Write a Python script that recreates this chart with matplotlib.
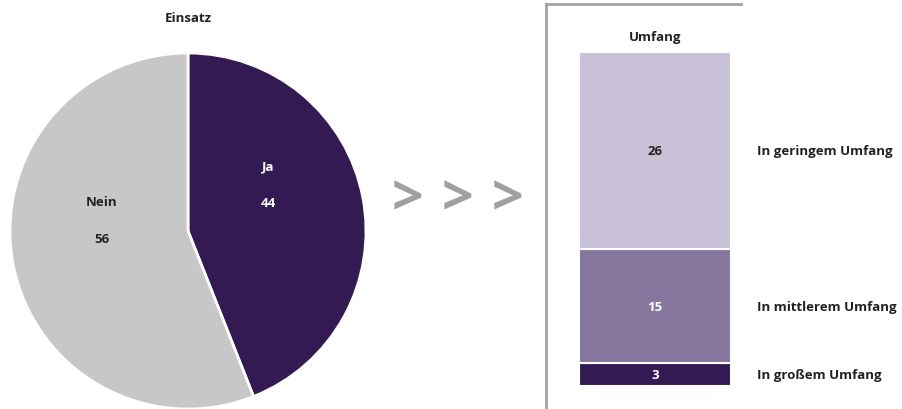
import numpy as np
import matplotlib.pyplot as plt
from matplotlib.lines import Line2D

plt.rcParams['font.family'] = ['Open Sans', 'DejaVu Sans']

# pie data
pie_labels = ['Ja', 'Nein']
pie_values = [44, 56]
pie_colors = ['#341a52', '#c6c7c6']

# stacked bar data (bottom to top)
bar_labels = ['In großem Umfang', 'In mittlerem Umfang', 'In geringem Umfang']
bar_values = [3, 15, 26]
bar_colors = ['#341a52', '#86769e', '#c8c1d8']
bar_text_colors = ['white', 'white', '#222222']

W, H = 903, 410
fig = plt.figure(figsize=(W / 100, H / 100), dpi=100)
fs = 9.5

# pie
r = 178
cx, cy = 188, 232
ax1 = fig.add_axes([(cx - r) / W, (H - cy - r) / H, 2 * r / W, 2 * r / H])
ax1.pie(pie_values, colors=pie_colors, startangle=90, counterclock=False,
        wedgeprops=dict(edgecolor='white', linewidth=2))
ax1.set_xlim(-1, 1)
ax1.set_ylim(-1, 1)
ax1.axis('off')
ax1.text(80 / r, 65 / r, pie_labels[0], color='white', fontsize=fs, fontweight='bold', ha='center', va='center')
ax1.text(80 / r, 28 / r, str(pie_values[0]), color='white', fontsize=fs, fontweight='bold', ha='center', va='center')
ax1.text(-86 / r, 29 / r, pie_labels[1], color='#222222', fontsize=fs, fontweight='bold', ha='center', va='center')
ax1.text(-86 / r, -8 / r, str(pie_values[1]), color='#222222', fontsize=fs, fontweight='bold', ha='center', va='center')
fig.text(cx / W, 1 - 19 / H, 'Einsatz', fontsize=fs, fontweight='bold', color='#222222', ha='center', va='center')

# arrows
for x in [408, 458, 508]:
    fig.text(x / W, 1 - 201 / H, '>', fontsize=40, fontweight='bold', color='#a0a0a0', ha='center', va='center')

# frame
gray = '#a3a3a3'
fig.add_artist(Line2D([546 / W, 741 / W], [1 - 5 / H, 1 - 5 / H], color=gray, lw=2))
fig.add_artist(Line2D([546 / W, 546 / W], [1 - 5 / H, 0], color=gray, lw=2))

# stacked bar
bx0, bx1, by_bottom, total_px = 579, 731, 387, 334
ax2 = fig.add_axes([bx0 / W, (H - by_bottom) / H, (bx1 - bx0) / W, total_px / H])
bottom = 0
for lab, v, c, tc in zip(bar_labels, bar_values, bar_colors, bar_text_colors):
    ax2.bar(0, v, bottom=bottom, width=1, color=c, edgecolor='white', linewidth=1.5)
    ax2.text(0, bottom + v / 2, str(v), color=tc, fontsize=fs, fontweight='bold', ha='center', va='center')
    ax2.annotate(lab, xy=(1.17, bottom + v / 2), xycoords=('axes fraction', 'data'),
                 fontsize=fs, fontweight='bold', color='#222222', ha='left', va='center')
    bottom += v
ax2.set_xlim(-0.5, 0.5)
ax2.set_ylim(0, sum(bar_values))
ax2.axis('off')
fig.text(655 / W, 1 - 37 / H, 'Umfang', fontsize=fs, fontweight='bold', color='#222222', ha='center', va='center')

fig.savefig('out.png', dpi=100)
